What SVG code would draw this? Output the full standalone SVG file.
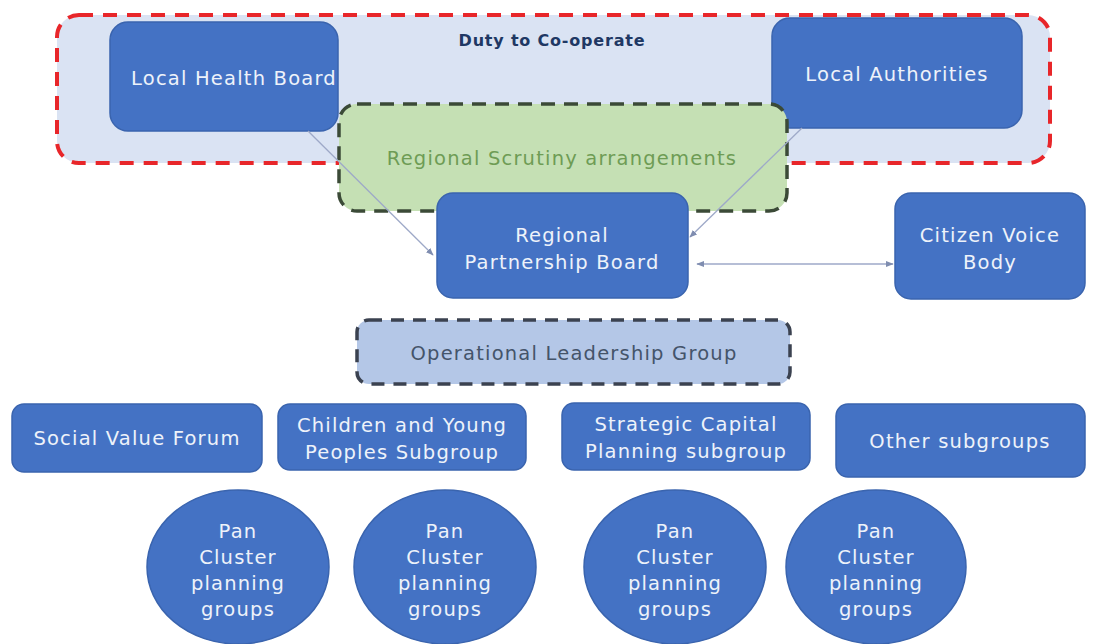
<svg xmlns="http://www.w3.org/2000/svg" width="1102" height="644" viewBox="0 0 1102 644">
<defs>
<style>
.box{fill:#4472C4;stroke:#3A64AE;stroke-width:1.5}
.t{font-family:"DejaVu Sans","Liberation Sans",sans-serif;font-size:19.5px;letter-spacing:1.2px;fill:#EEF2FA;text-anchor:middle}
.conn{stroke:#9EA9C8;stroke-width:1.3;fill:none}
</style>
<marker id="ah" viewBox="0 0 10 10" refX="9" refY="5" markerWidth="6" markerHeight="6" orient="auto-start-reverse"><path d="M0,1 L10,5 L0,9 z" fill="#7F8DB0"/></marker>
</defs>
<rect width="1102" height="644" fill="#FFFFFF"/>
<g id="duty">
<rect x="57" y="15" width="993" height="148" rx="22" fill="#DAE3F3" stroke="#E8262A" stroke-width="4" stroke-dasharray="14 10"/>
<text x="552" y="46" style="font-family:'DejaVu Sans','Liberation Sans',sans-serif;font-size:16px;letter-spacing:0.8px;font-weight:bold;fill:#1F3864;text-anchor:middle">Duty to Co-operate</text>
</g>
<g id="lhb">
<rect class="box" x="110" y="22" width="228" height="109" rx="18"/>
<text class="t" x="234" y="85">Local Health Board</text>
</g>
<g id="la">
<rect class="box" x="772" y="18" width="250" height="110" rx="18"/>
<text class="t" x="897" y="81">Local Authorities</text>
</g>
<g id="scrutiny">
<rect x="339" y="104" width="448" height="107" rx="18" fill="#C5E0B4" stroke="#3B4A37" stroke-width="3.5" stroke-dasharray="14 9"/>
<text x="562" y="165" style="font-family:'DejaVu Sans','Liberation Sans',sans-serif;font-size:19.5px;letter-spacing:1.2px;fill:#6E9C55;text-anchor:middle">Regional Scrutiny arrangements</text>
</g>
<g id="connectors">
<line class="conn" x1="308" y1="131" x2="433" y2="255" marker-end="url(#ah)"/>
<line class="conn" x1="802" y1="128" x2="690" y2="237" marker-end="url(#ah)"/>
<line class="conn" x1="697" y1="264" x2="893" y2="264" marker-start="url(#ah)" marker-end="url(#ah)"/>
</g>
<g id="rpb">
<rect class="box" x="437" y="193" width="251" height="105" rx="16"/>
<text class="t" x="562" y="242">Regional</text>
<text class="t" x="562" y="269">Partnership Board</text>
</g>
<g id="cvb">
<rect class="box" x="895" y="193" width="190" height="106" rx="16"/>
<text class="t" x="990" y="242">Citizen Voice</text>
<text class="t" x="990" y="269">Body</text>
</g>
<g id="olg">
<rect x="357" y="320" width="433" height="64" rx="12" fill="#B4C7E7" stroke="#3B4250" stroke-width="3.5" stroke-dasharray="13 9"/>
<text x="574" y="360" style="font-family:'DejaVu Sans','Liberation Sans',sans-serif;font-size:19.5px;letter-spacing:1.2px;fill:#44546A;text-anchor:middle">Operational Leadership Group</text>
</g>
<g id="svf">
<rect class="box" x="12" y="404" width="250" height="68" rx="12"/>
<text class="t" x="137" y="445">Social Value Forum</text>
</g>
<g id="cyp">
<rect class="box" x="278" y="404" width="248" height="66" rx="12"/>
<text class="t" x="402" y="432">Children and Young</text>
<text class="t" x="402" y="459">Peoples Subgroup</text>
</g>
<g id="scp">
<rect class="box" x="562" y="403" width="248" height="67" rx="12"/>
<text class="t" x="686" y="431">Strategic Capital</text>
<text class="t" x="686" y="458">Planning subgroup</text>
</g>
<g id="other">
<rect class="box" x="836" y="404" width="249" height="73" rx="12"/>
<text class="t" x="960" y="448">Other subgroups</text>
</g>
<g id="pan1">
<ellipse class="box" cx="238" cy="567" rx="91" ry="77"/>
<text class="t" x="238" y="538">Pan</text><text class="t" x="238" y="564">Cluster</text><text class="t" x="238" y="590">planning</text><text class="t" x="238" y="616">groups</text>
</g>
<g id="pan2">
<ellipse class="box" cx="445" cy="567" rx="91" ry="77"/>
<text class="t" x="445" y="538">Pan</text><text class="t" x="445" y="564">Cluster</text><text class="t" x="445" y="590">planning</text><text class="t" x="445" y="616">groups</text>
</g>
<g id="pan3">
<ellipse class="box" cx="675" cy="567" rx="91" ry="77"/>
<text class="t" x="675" y="538">Pan</text><text class="t" x="675" y="564">Cluster</text><text class="t" x="675" y="590">planning</text><text class="t" x="675" y="616">groups</text>
</g>
<g id="pan4">
<ellipse class="box" cx="876" cy="567" rx="90" ry="77"/>
<text class="t" x="876" y="538">Pan</text><text class="t" x="876" y="564">Cluster</text><text class="t" x="876" y="590">planning</text><text class="t" x="876" y="616">groups</text>
</g>
</svg>
